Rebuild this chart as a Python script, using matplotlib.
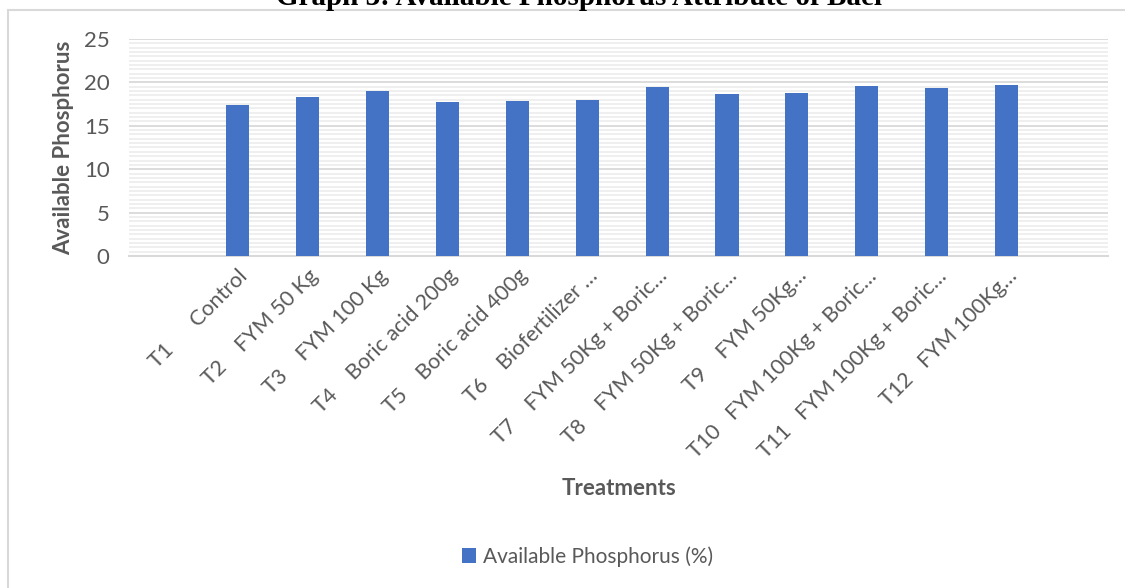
import numpy as np
import matplotlib
matplotlib.use("Agg")
import matplotlib.pyplot as plt
from matplotlib.patches import Rectangle
from matplotlib.ticker import MultipleLocator

# data
treatments = ["T1      Control", "T2    FYM 50 Kg", "T3    FYM 100 Kg",
              "T4    Boric acid 200g", "T5    Boric acid 400g",
              "T6    Biofertilizer \u2026", "T7    FYM 50Kg + Boric\u2026",
              "T8    FYM 50Kg + Boric\u2026", "T9    FYM 50Kg\u2026",
              "T10   FYM 100Kg + Boric\u2026", "T11   FYM 100Kg + Boric\u2026",
              "T12   FYM 100Kg\u2026"]
phosphorus = [17.35, 18.27, 19.03, 17.69, 17.84, 17.99,
              19.49, 18.61, 18.73, 19.57, 19.34, 19.65]

text_gray = "#595959"
bar_blue = "#4472C4"

plt.rcParams['font.family'] = ['Lato', 'DejaVu Sans']

fig = plt.figure(figsize=(11.25, 5.88), dpi=100)
ax = fig.add_axes([0.1147, 0.5646, 0.8703, 0.3691])

x = np.arange(len(treatments))
ax.bar(x, phosphorus, width=0.33, color=bar_blue, zorder=3,
       label="Available Phosphorus (%)")

ax.set_xlim(-1.55, 12.45)
ax.set_ylim(0, 25)
ax.yaxis.set_major_locator(MultipleLocator(5))
ax.yaxis.set_minor_locator(MultipleLocator(0.5))
ax.grid(axis='y', which='minor', color='#ececec', linewidth=1.2, zorder=0)
ax.grid(axis='y', which='major', color='#d9d9d9', linewidth=1.3, zorder=1)

for s in ['top', 'right', 'left']:
    ax.spines[s].set_visible(False)
ax.spines['bottom'].set_color('#d9d9d9')
ax.spines['bottom'].set_linewidth(1.5)

ax.set_xticks(x)
ax.set_xticklabels(treatments, rotation=45, ha='right',
                   rotation_mode='anchor', fontsize=15.5, color=text_gray)
ax.tick_params(axis='x', length=0, pad=7)
ax.tick_params(axis='y', which='both', length=0, labelsize=16,
               labelcolor=text_gray, pad=14)

ax.set_ylabel("Available Phosphorus", fontsize=16, fontweight='bold',
              color=text_gray, labelpad=7)
fig.text(0.55, 0.17, "Treatments", ha='center', va='center',
         fontsize=16, fontweight='bold', color=text_gray)

fig.legend(loc='center', bbox_to_anchor=(0.522, 0.054), frameon=False,
           fontsize=15, labelcolor=text_gray, handlelength=0.7,
           handleheight=0.7, handletextpad=0.3)

# chart title, cut off at the top edge as in the reference
fig.text(0.515, 0.992, "Graph 3: Available Phosphorus Attribute of Bael",
         ha='center', va='baseline', fontsize=21, fontweight='bold',
         family='Liberation Serif', color='black')

# outer chart border
fig.patches.append(Rectangle((8 / 1125, -0.1), 1.2, 1 - 10 / 588 + 0.1,
                             transform=fig.transFigure, fill=False,
                             edgecolor='#d9d9d9', linewidth=1.5))

fig.savefig("out.png", dpi=100)
